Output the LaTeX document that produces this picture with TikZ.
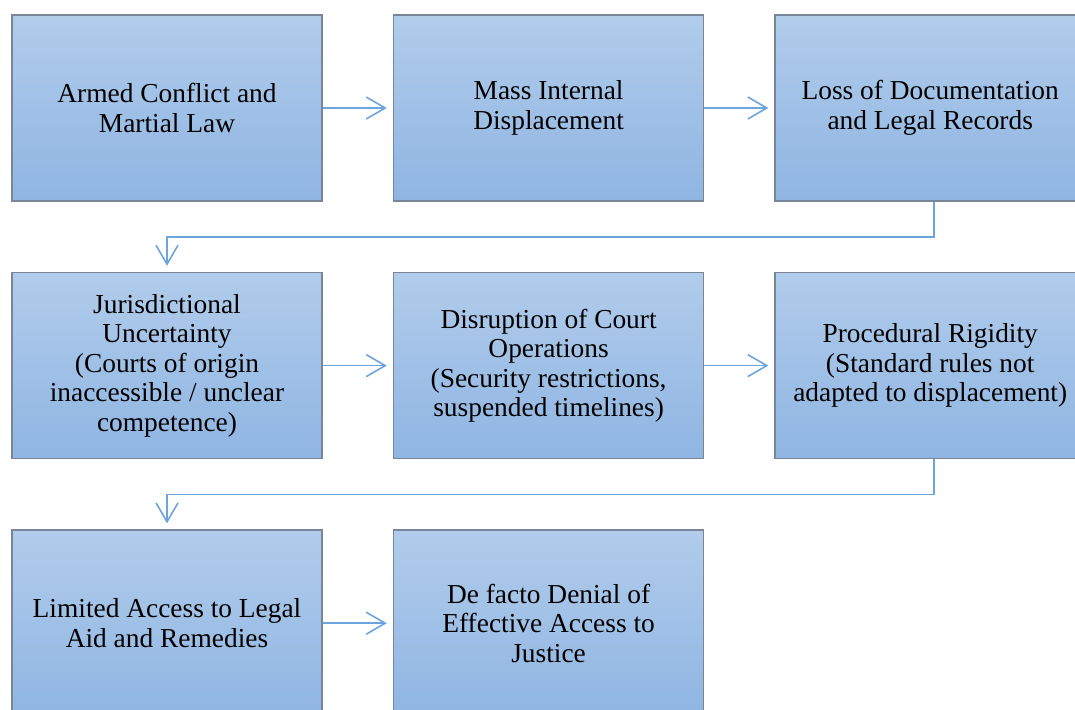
\documentclass[tikz,border=0pt]{standalone}
\usepackage{fontspec}
\setmainfont{Liberation Serif}
\usetikzlibrary{positioning,arrows.meta}
\definecolor{boxtop}{RGB}{177,204,235}
\definecolor{boxbottom}{RGB}{143,181,226}
\definecolor{boxline}{RGB}{122,134,152}
\definecolor{flow}{RGB}{110,164,222}
\begin{document}
\begin{tikzpicture}[
	box/.style = {draw=boxline, line width=0.8pt, top color=boxtop, bottom color=boxbottom,
		minimum width=155pt, minimum height=93pt, align=center, inner sep=2pt,
		font=\fontsize{13.7}{14.75}\selectfont},
	flowarrow/.style = {draw=flow, line width=0.8pt, shorten >=3pt,
		-{Straight Barb[length=9.5pt,width=11pt,line width=0.8pt]}},
	node distance=35pt and 35pt,
	]
	\useasboundingbox (0,0) rectangle (537.5pt,-354.5pt);
	% first row
	\node[box] (conflict) at (83.5pt,-54pt) {Armed Conflict and\\Martial Law};
	\node[box, right=of conflict] (displacement) {Mass Internal\\Displacement};
	\node[box, right=of displacement] (records) {Loss of Documentation\\and Legal Records};
	% second row
	\node[box, below=of conflict] (jurisdiction) {Jurisdictional\\Uncertainty\\(Courts of origin\\inaccessible / unclear\\competence)};
	\node[box, right=of jurisdiction] (courts) {Disruption of Court\\Operations\\(Security restrictions,\\suspended timelines)};
	\node[box, right=of courts] (rigidity) {Procedural Rigidity\\(Standard rules not\\adapted to displacement)};
	% third row
	\node[box, below=of jurisdiction] (legalaid) {Limited Access to Legal\\Aid and Remedies};
	\node[box, right=of legalaid] (denial) {De facto Denial of\\Effective Access to\\Justice};
	\draw[flowarrow] (conflict) -- (displacement);
	\draw[flowarrow] (displacement) -- (records);
	\draw[flowarrow] ([xshift=2pt]records.south) -- ++(0,-17.5pt) -| (jurisdiction.north);
	\draw[flowarrow] (jurisdiction) -- (courts);
	\draw[flowarrow] (courts) -- (rigidity);
	\draw[flowarrow] ([xshift=2pt]rigidity.south) -- ++(0,-17.5pt) -| (legalaid.north);
	\draw[flowarrow] (legalaid) -- (denial);
\end{tikzpicture}
\end{document}
